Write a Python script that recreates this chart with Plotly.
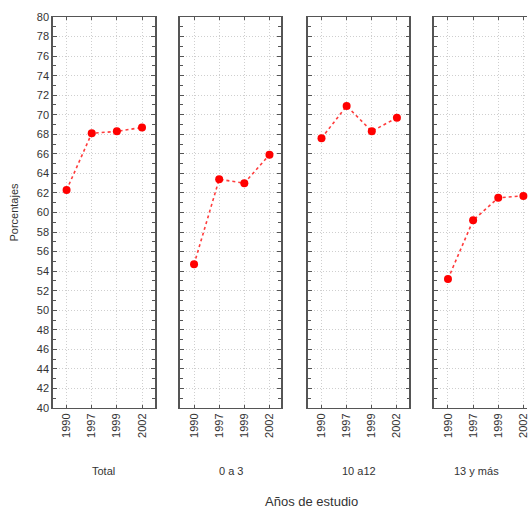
import plotly.graph_objects as go

years = ["1990", "1997", "1999", "2002"]
groups = ["Total", "0 a 3", "10 a12", "13 y más"]
total = [62.3, 68.1, 68.3, 68.7]
g0a3 = [54.7, 63.4, 63.0, 65.9]
g10a12 = [67.6, 70.9, 68.3, 69.7]
g13mas = [53.2, 59.2, 61.5, 61.7]
series = [total, g0a3, g10a12, g13mas]

W, H = 529, 508
ML, MT, MB = 53, 17, 100
plot_w = W - ML
panels_px = [(53, 155), (181, 282), (309, 411), (436, 538)]
px_per_unit = 102 / 4.04
r0 = -0.54

fig = go.Figure()
font = dict(family="Liberation Sans, Arial, sans-serif", size=11, color="#333")
axcol = "#555"

for i, vals in enumerate(series):
    n = i + 1
    xa = "x" if n == 1 else f"x{n}"
    ya = "y" if n == 1 else f"y{n}"
    fig.add_trace(go.Scatter(
        x=years, y=vals, xaxis=xa, yaxis=ya, mode="lines+markers",
        line=dict(color="rgba(255,40,40,0.9)", width=1.6, dash="dot"),
        marker=dict(color="#ff0000", size=8, line=dict(width=0)),
        showlegend=False, cliponaxis=False))
    left, right = panels_px[i]
    d0 = (left - ML) / plot_w
    vis_right = min(right, W)
    d1 = (vis_right - ML) / plot_w
    rng_end = r0 + (vis_right - left) / px_per_unit
    last = (n == 4)
    xkey = "xaxis" if n == 1 else f"xaxis{n}"
    ykey = "yaxis" if n == 1 else f"yaxis{n}"
    fig.layout[xkey] = dict(
        domain=[d0, min(d1, 1.0)], type="category", range=[r0, rng_end],
        anchor=ya, showline=True, linecolor=axcol, linewidth=1, mirror="allticks",
        ticks="inside", ticklen=3, tickcolor=axcol, tickangle=-90,
        showgrid=True, gridcolor="#cfcfcf", griddash="1px,2px", gridwidth=1,
        tickfont=font, zeroline=False, fixedrange=True)
    ydict = dict(
        domain=[0, 1], range=[40, 80], dtick=2, tick0=40, anchor=xa,
        showline=True, linecolor=axcol, linewidth=1.5,
        mirror=False if last else "allticks",
        ticks="inside", ticklen=4, tickcolor=axcol,
        minor=dict(dtick=1, ticks="inside", ticklen=3, tickcolor=axcol, showgrid=False),
        showgrid=True, gridcolor="#cfcfcf", griddash="1px,2px", gridwidth=1,
        showticklabels=(n == 1), tickfont=font, zeroline=False, fixedrange=True)
    if n == 1:
        ydict["title"] = dict(text="Porcentajes", font=font, standoff=16)
    fig.layout[ykey] = ydict
    center = 0.5 if not last else (478 - left) / (vis_right - left)
    fig.add_annotation(text=groups[i], xref=f"{xa} domain", yref="paper",
                       x=center, y=-(471 - (H - MB)) / (H - MT - MB),
                       showarrow=False, font=font, xanchor="center", yanchor="middle")

fig.add_annotation(text="Años de estudio", xref="paper", yref="paper",
                   x=(313 - ML) / plot_w, y=-(502 - (H - MB)) / (H - MT - MB),
                   showarrow=False, font=dict(family="Liberation Sans, Arial, sans-serif", size=13, color="#333"),
                   xanchor="center", yanchor="middle")

fig.update_layout(width=W, height=H, margin=dict(l=ML, r=0, t=MT, b=MB),
                  plot_bgcolor="white", paper_bgcolor="white")
fig.write_html("out.html", config={"displayModeBar": False},
               post_script="document.body.style.margin='0';document.body.style.overflow='hidden';")
